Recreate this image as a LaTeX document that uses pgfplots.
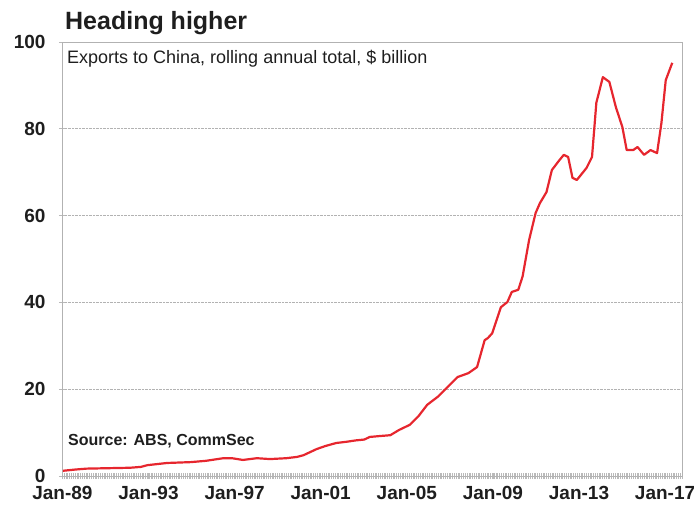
\documentclass[border=0pt]{standalone}
\usepackage{fontspec}
\setmainfont{Liberation Sans}
\usepackage{pgfplots}
\pgfplotsset{compat=1.18}
\definecolor{linered}{RGB}{230,38,46}
\definecolor{txt}{RGB}{30,30,30}
\begin{document}
\begin{tikzpicture}
\useasboundingbox (-62pt,-28pt) rectangle (632pt,476pt);
\begin{axis}[
  at={(0,0)}, anchor=south west,
  scale only axis, width=620pt, height=434pt,
  xmin=1988.86, xmax=2017.45, ymin=0, ymax=100,
  xtick={1988.88,1992.85,1996.82,2000.79,2004.76,2008.73,2012.70,2016.67},
  xticklabels={Jan-89,Jan-93,Jan-97,Jan-01,Jan-05,Jan-09,Jan-13,Jan-17},
  minor xtick={1988.96,1989.0433,...,2017.4},
  ytick={0,20,...,100},
  xtick pos=bottom, ytick pos=left,
  ymajorgrids,
  grid style={gray!60, densely dotted, line width=0.9pt},
  axis line style={gray!60, line width=0.9pt},
  tick align=center,
  major tick length=6pt, minor tick length=6pt,
  tick style={gray!55, line width=0.6pt},
  /pgf/number format/assume math mode=true,
  ticklabel style={font=\fontsize{19}{19}\selectfont\bfseries, text=txt},
  x tick label style={yshift=-4pt},
  y tick label style={xshift=-10pt},
]
\addplot[linered, line width=2.2pt, line join=round] coordinates {
(1988.9,1.2) (1989.5,1.5) (1990.0,1.7) (1991.0,1.8) (1992.0,1.9) (1992.5,2.1)
(1992.8,2.5) (1993.7,3.0) (1994.8,3.2) (1995.5,3.5) (1996.3,4.1) (1996.7,4.1)
(1997.2,3.7) (1997.85,4.1) (1998.45,3.9) (1999.2,4.1) (1999.7,4.4) (2000.0,4.8)
(2000.6,6.2) (2001.0,6.9) (2001.5,7.6) (2002.0,7.9) (2002.4,8.2) (2002.8,8.4)
(2003.05,9.0) (2003.5,9.2) (2004.0,9.4) (2004.4,10.6) (2004.9,11.8) (2005.3,13.8)
(2005.7,16.4) (2006.2,18.3) (2006.6,20.3) (2007.1,22.8) (2007.6,23.7) (2008.0,25.1)
(2008.35,31.3) (2008.5,31.8) (2008.7,32.9) (2009.1,38.9) (2009.4,40.1) (2009.6,42.4)
(2009.9,42.9) (2010.1,46.0) (2010.4,54.4) (2010.7,60.6) (2010.9,62.9) (2011.2,65.4)
(2011.45,70.5) (2011.8,72.8) (2012.0,74.0) (2012.2,73.5) (2012.4,68.7) (2012.6,68.2)
(2013.05,71.0) (2013.3,73.5) (2013.5,86.0) (2013.8,91.9) (2014.1,90.8) (2014.4,85.0)
(2014.7,80.4) (2014.9,75.1) (2015.2,75.1) (2015.4,75.8) (2015.7,74.0) (2016.0,75.1)
(2016.3,74.4) (2016.5,81.3) (2016.7,91.2) (2017.0,95.2)
};
\end{axis}
\node[anchor=base west, inner sep=0pt, text=txt, font=\fontsize{25}{25}\selectfont\bfseries] at (3pt,446pt) {Heading higher};
\node[anchor=base west, inner sep=0pt, text=txt, font=\fontsize{18}{18}\selectfont] at (5pt,412pt) {Exports to China, rolling annual total, \$ billion};
\node[anchor=base west, inner sep=0pt, text=txt, font=\fontsize{16}{16}\selectfont\bfseries] at (6pt,31pt) {Source: ABS, CommSec};
\end{tikzpicture}
\end{document}
